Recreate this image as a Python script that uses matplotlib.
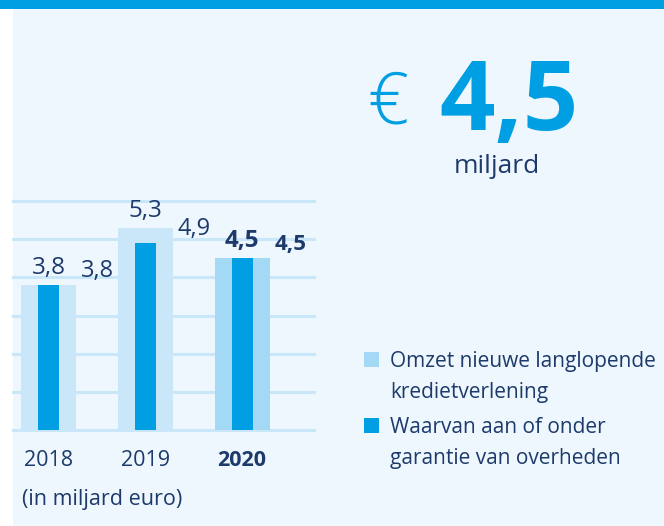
import matplotlib.pyplot as plt
from matplotlib.patches import Rectangle

# data (in miljard euro)
years = ["2018", "2019", "2020"]
omzet = [3.8, 5.3, 4.5]          # Omzet nieuwe langlopende kredietverlening
garantie = [3.8, 4.9, 4.5]       # Waarvan aan of onder garantie van overheden
omzet_labels = ["3,8", "5,3", "4,5"]
garantie_labels = ["3,8", "4,9", "4,5"]
legend_labels = [["Omzet nieuwe langlopende", "kredietverlening"],
                 ["Waarvan aan of onder", "garantie van overheden"]]
headline = "4,5"

W, H = 664, 526
NAVY = "#1d3a6b"
BLUE = "#009fe3"
LIGHT = "#c9e7f8"
LIGHT_2020 = "#a3d9f5"
BG = "#eef7fe"

plt.rcParams['font.family'] = ['Open Sans', 'DejaVu Sans']

fig = plt.figure(figsize=(W / 100, H / 100), dpi=100)
fig.patch.set_facecolor("white")


def fx(px):
    return px / W


def fy(py):
    return 1 - py / H


# panel background + top band
fig.patches.append(Rectangle((fx(13), 0), 1 - fx(13), fy(9), transform=fig.transFigure,
                             facecolor=BG, edgecolor="none", zorder=-2))
fig.patches.append(Rectangle((0, fy(9)), 1, 9 / H, transform=fig.transFigure,
                             facecolor=BLUE, edgecolor="none", zorder=-1))

# bar axes: x 13..314 px, y 430 (0) .. 201 (6)
ax = fig.add_axes([fx(13), fy(430), fx(314 - 13), (430 - 201) / H])
ax.set_facecolor("none")
ax.set_xlim(-0.366, 2.742)
ax.set_ylim(0, 6)
ax.axis("off")

for g in range(7):
    ax.axhline(g, color=LIGHT, lw=2.2, zorder=0, clip_on=False)

x = range(len(years))
light_colors = [LIGHT, LIGHT, LIGHT_2020]
ax.bar(x, omzet, width=0.567, color=light_colors, zorder=1)
ax.bar(x, garantie, width=0.216, color=BLUE, zorder=2)

for i in x:
    bold = "bold" if i == len(years) - 1 else "normal"
    ax.annotate(omzet_labels[i], (i, omzet[i]), xytext=(0, 8), textcoords="offset points",
                ha="center", va="baseline", fontsize=17.5, color=NAVY, weight=bold)
    ax.annotate(garantie_labels[i], (i + 0.505, garantie[i]), xytext=(0, 6),
                textcoords="offset points", ha="center", va="baseline",
                fontsize=17 if i < 2 else 16, color=NAVY, weight=bold)
    ax.text(i, -0.95, years[i], ha="center", va="baseline", fontsize=15.5,
            color=NAVY, weight=bold)

fig.text(fx(22), fy(505), "(in miljard euro)", ha="left", va="baseline",
         fontsize=15.5, color=NAVY)

# headline figure
fig.text(fx(388), fy(124), "€", ha="center", va="baseline", fontsize=52,
         color=BLUE, weight="light")
fig.text(fx(509), fy(130), headline, ha="center", va="baseline", fontsize=70,
         color=BLUE, weight="bold")
fig.text(fx(497), fy(173), "miljard", ha="center", va="baseline", fontsize=19,
         color=NAVY)

# legend
for k, (lines, col) in enumerate(zip(legend_labels, [LIGHT_2020, BLUE])):
    base = 367 + k * 66
    fig.patches.append(Rectangle((fx(364), fy(base)), 15 / W, 15 / H,
                                 transform=fig.transFigure, facecolor=col,
                                 edgecolor="none"))
    for j, line in enumerate(lines):
        fig.text(fx(390), fy(base + j * 31), line, ha="left", va="baseline",
                 fontsize=15, color=NAVY)

fig.savefig("out.png", dpi=100, facecolor=fig.get_facecolor())
